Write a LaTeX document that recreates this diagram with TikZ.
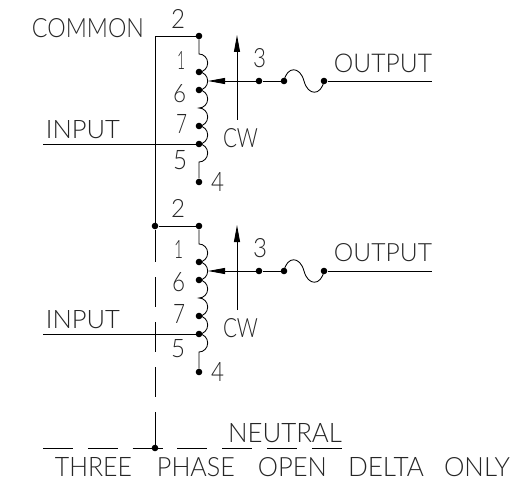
\documentclass[tikz,border=0pt]{standalone}
\usepackage{fontspec}
\setsansfont{Lato}[UprightFont=* Light]
\usetikzlibrary{arrows.meta}
\tikzset{
  x=1pt,y=-1pt,
  wire/.style={line width=0.85pt,black},
  dot/.style={circle,fill=black,draw=none,inner sep=0pt,minimum size=6.6pt},
  lbl/.style={inner sep=0pt,outer sep=0pt,text=black!85,font=\sffamily},
  tiph/.style={-{Triangle[length=17pt,width=6pt]}},
}
% name, left, top, right, bottom, text
\newcommand{\lab}[6]{%
  \pgfmathsetlengthmacro{\lw}{(#4-#2)*1pt}%
  \pgfmathsetlengthmacro{\lh}{(#5-#3)*1pt}%
  \node[lbl] (#1) at ({(#2+#4)/2},{(#3+#5)/2}) {\resizebox{\lw}{\lh}{#6}};}
% one word of a spaced line: width, text
\newcommand{\wordbox}[2]{\resizebox{#1pt}{19pt}{#2}}
% one tap changer stage, suffix and vertical offset
\newcommand{\stage}[2]{%
\begin{scope}[shift={(0,#2)}]
  \node[dot] (top#1) at (199,36) {};
  \node[dot] (a#1) at (199,72) {};
  \node[dot] (b#1) at (199,90) {};
  \node[dot] (c#1) at (199,126) {};
  \node[dot] (d#1) at (199,144) {};
  \node[dot] (e#1) at (199,182) {};
  \node[dot] (w#1) at (259,81) {};
  \node[dot] (f#1) at (284,81) {};
  \node[dot] (g#1) at (324,81) {};
  \coordinate (cs#1) at (199,54);
  \coordinate (ce#1) at (199,162);
  \coordinate (tip#1) at (208,81);
  \coordinate (cwb#1) at (237,120);
  \coordinate (cwt#1) at (237,35);
  \coordinate (in#1) at (43,144);
  \coordinate (out#1) at (432,81);
  \draw[wire] (top#1) -- (cs#1)
    arc[start angle=90,end angle=-90,x radius=8.7pt,y radius=9pt]
    arc[start angle=90,end angle=-90,x radius=8.7pt,y radius=9pt]
    arc[start angle=90,end angle=-90,x radius=8.7pt,y radius=9pt]
    arc[start angle=90,end angle=-90,x radius=8.7pt,y radius=9pt]
    arc[start angle=90,end angle=-90,x radius=8.7pt,y radius=9pt]
    arc[start angle=90,end angle=-90,x radius=8.7pt,y radius=9pt]
    -- (e#1);
  \draw[wire,tiph] (f#1) -- (w#1) -- (tip#1);
  \draw[wire,tiph] (cwb#1) -- (cwt#1);
  \draw[wire] (f#1.center) .. controls (287,66) and (300,66) .. (304,81)
     .. controls (308,96) and (321,96) .. (g#1.center);
  \draw[wire] (g#1) -- (out#1);
  \draw[wire] (in#1) -- (d#1);
\end{scope}}
\begin{document}
\begin{tikzpicture}
\useasboundingbox (0,0) rectangle (523,487);
\stage{u}{0}
\stage{l}{190}
\node[dot] (j) at (155,226) {};
\node[dot] (n) at (155,448) {};
\coordinate (corner) at (155,36);
\coordinate (nl) at (43,448);
\coordinate (nr) at (342,448);
\draw[wire] (topu) -- (corner) -- (j);
\draw[wire] (j) -- (topl);
\draw[wire,dash pattern=on 32.8pt off 15pt on 30pt off 15pt on 30pt off 15pt on 30pt off 15pt on 40pt] (j) -- (n);
\draw[wire,dash pattern=on 30pt off 14.8pt] (nl) -- (nr);
\lab{common}{32}{19}{144}{38}{COMMON}
\lab{u2}{171}{9}{185}{28}{2}
\lab{u1}{177}{51}{185}{69}{1}
\lab{u6}{173}{85}{186}{103}{6}
\lab{u7}{176}{114}{187}{133}{7}
\lab{u5}{173}{151}{187}{170}{5}
\lab{u4}{211}{172}{224}{191}{4}
\lab{u3}{253}{49}{266}{68}{3}
\lab{uout}{334}{54}{432}{72.5}{OUTPUT}
\lab{ucw}{223}{129}{258}{148}{CW}
\lab{uin}{46}{121}{120}{139}{INPUT}
\lab{l2}{171}{199}{185}{217}{2}
\lab{l1}{174}{240}{183}{258}{1}
\lab{l6}{172}{273}{185}{292}{6}
\lab{l7}{173}{304}{185}{323}{7}
\lab{l5}{171}{340}{185}{358}{5}
\lab{l4}{211}{362}{224}{381}{4}
\lab{l3}{253}{239}{267}{258}{3}
\lab{lout}{334}{244}{432}{262}{OUTPUT}
\lab{lcw}{223}{319}{258}{338}{CW}
\lab{lin}{46}{311}{120}{329}{INPUT}
\lab{neutral}{228}{424}{342}{443}{NEUTRAL}
\node[lbl] (three) at (282.5,467.5) {\wordbox{77}{THREE}\hspace{25pt}\wordbox{78}{PHASE}\hspace{23pt}\wordbox{69}{OPEN}\hspace{21pt}\wordbox{76}{DELTA}\hspace{20pt}\wordbox{66}{ONLY}};
\end{tikzpicture}
\end{document}
